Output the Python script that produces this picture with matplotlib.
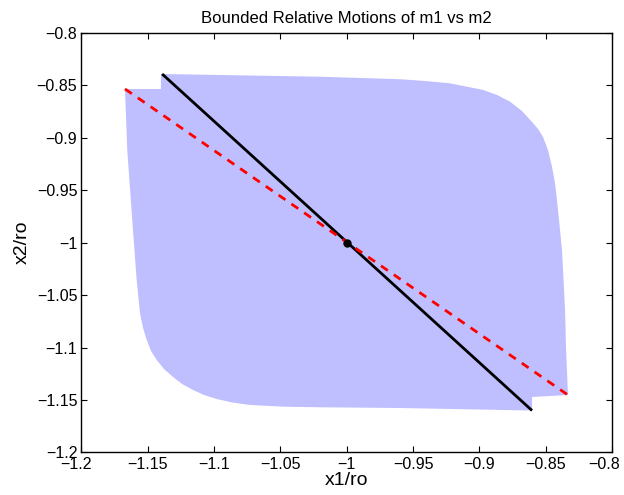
import numpy as np
import matplotlib
matplotlib.use("Agg")
import matplotlib.pyplot as plt
import matplotlib.transforms as mtransforms

plt.rcParams['font.family'] = ['Liberation Sans', 'DejaVu Sans']

# outline of the region swept by the relative motion
region_x = [-1.1672, -1.1401, -1.1401, -1.0202, -0.9599, -0.9410, -0.9222, -0.8973,
            -0.8867, -0.8769, -0.8679, -0.8596, -0.8558, -0.8520, -0.8483, -0.8452,
            -0.8430, -0.8415, -0.8377, -0.8354, -0.8347, -0.8332,
            -0.8603, -0.8603, -0.9599, -1.0202, -1.0481, -1.0730, -1.0865, -1.0981,
            -1.1076, -1.1159, -1.1242, -1.1310, -1.1378, -1.1433, -1.1476, -1.1508,
            -1.1536, -1.1559, -1.1584, -1.1612, -1.1655]
region_y = [-0.8534, -0.8534, -0.8391, -0.8417, -0.8441, -0.8458, -0.8480, -0.8543,
            -0.8591, -0.8655, -0.8744, -0.8858, -0.8915, -0.8992, -0.9116, -0.9278,
            -0.9430, -0.9592, -1.0069, -1.0641, -1.0994, -1.1452,
            -1.1471, -1.1600, -1.1576, -1.1569, -1.1563, -1.1547, -1.1523, -1.1490,
            -1.1452, -1.1404, -1.1347, -1.1280, -1.1204, -1.1118, -1.1032, -1.0927,
            -1.0813, -1.0670, -1.0355, -0.9878, -0.9116]

# mode lines and equilibrium point
mode1_x = [-1.1392, -0.8603]
mode1_y = [-0.8391, -1.1600]
mode2_x = [-1.1672, -0.8332]
mode2_y = [-0.8534, -1.1452]
eq_x = [-1.0]
eq_y = [-1.0]

xticks = [-1.2, -1.15, -1.1, -1.05, -1.0, -0.95, -0.9, -0.85, -0.8]
yticks = [-1.2, -1.15, -1.1, -1.05, -1.0, -0.95, -0.9, -0.85, -0.8]
tick_labels = ['\u22121.2', '\u22121.15', '\u22121.1', '\u22121.05', '\u22121',
               '\u22120.95', '\u22120.9', '\u22120.85', '\u22120.8']

fig = plt.figure(figsize=(6.24, 4.95), dpi=100)
ax = fig.add_axes([0.1306, 0.0859, 0.8502, 0.8475])

ax.fill(region_x, region_y, facecolor='#bfbfff', linewidth=0)
ax.plot(mode1_x, mode1_y, color='black', linewidth=2.0, solid_capstyle='butt')
ax.plot(mode2_x, mode2_y, color='red', linewidth=2.0, linestyle=(0, (3, 2.6)))
ax.plot(eq_x, eq_y, 'o', color='black', markersize=5)

ax.set_xlim(-1.2, -0.8)
ax.set_ylim(-1.2, -0.8)
ax.set_xticks(xticks)
ax.set_yticks(yticks)
ax.set_xticklabels(tick_labels, fontsize=11.5)
ax.set_yticklabels(tick_labels, fontsize=11.5)
ax.tick_params(direction='in', length=4, width=0.8, top=True, right=True, pad=3)
for s in ax.spines.values():
    s.set_linewidth(1.0)

# keep the end labels inside the figure, like the original
last = ax.get_xticklabels()[-1]
last.set_transform(last.get_transform() + mtransforms.ScaledTranslation(-8 / 100, 0, fig.dpi_scale_trans))
first = ax.get_xticklabels()[0]
first.set_transform(first.get_transform() + mtransforms.ScaledTranslation(-5 / 100, 0, fig.dpi_scale_trans))

ax.set_title('Bounded Relative Motions of m1 vs m2', fontsize=12, pad=7)
ax.set_xlabel('x1/ro', fontsize=14, labelpad=0)
ax.set_ylabel('x2/ro', fontsize=14, labelpad=4)

fig.savefig('out.png', dpi=100)
